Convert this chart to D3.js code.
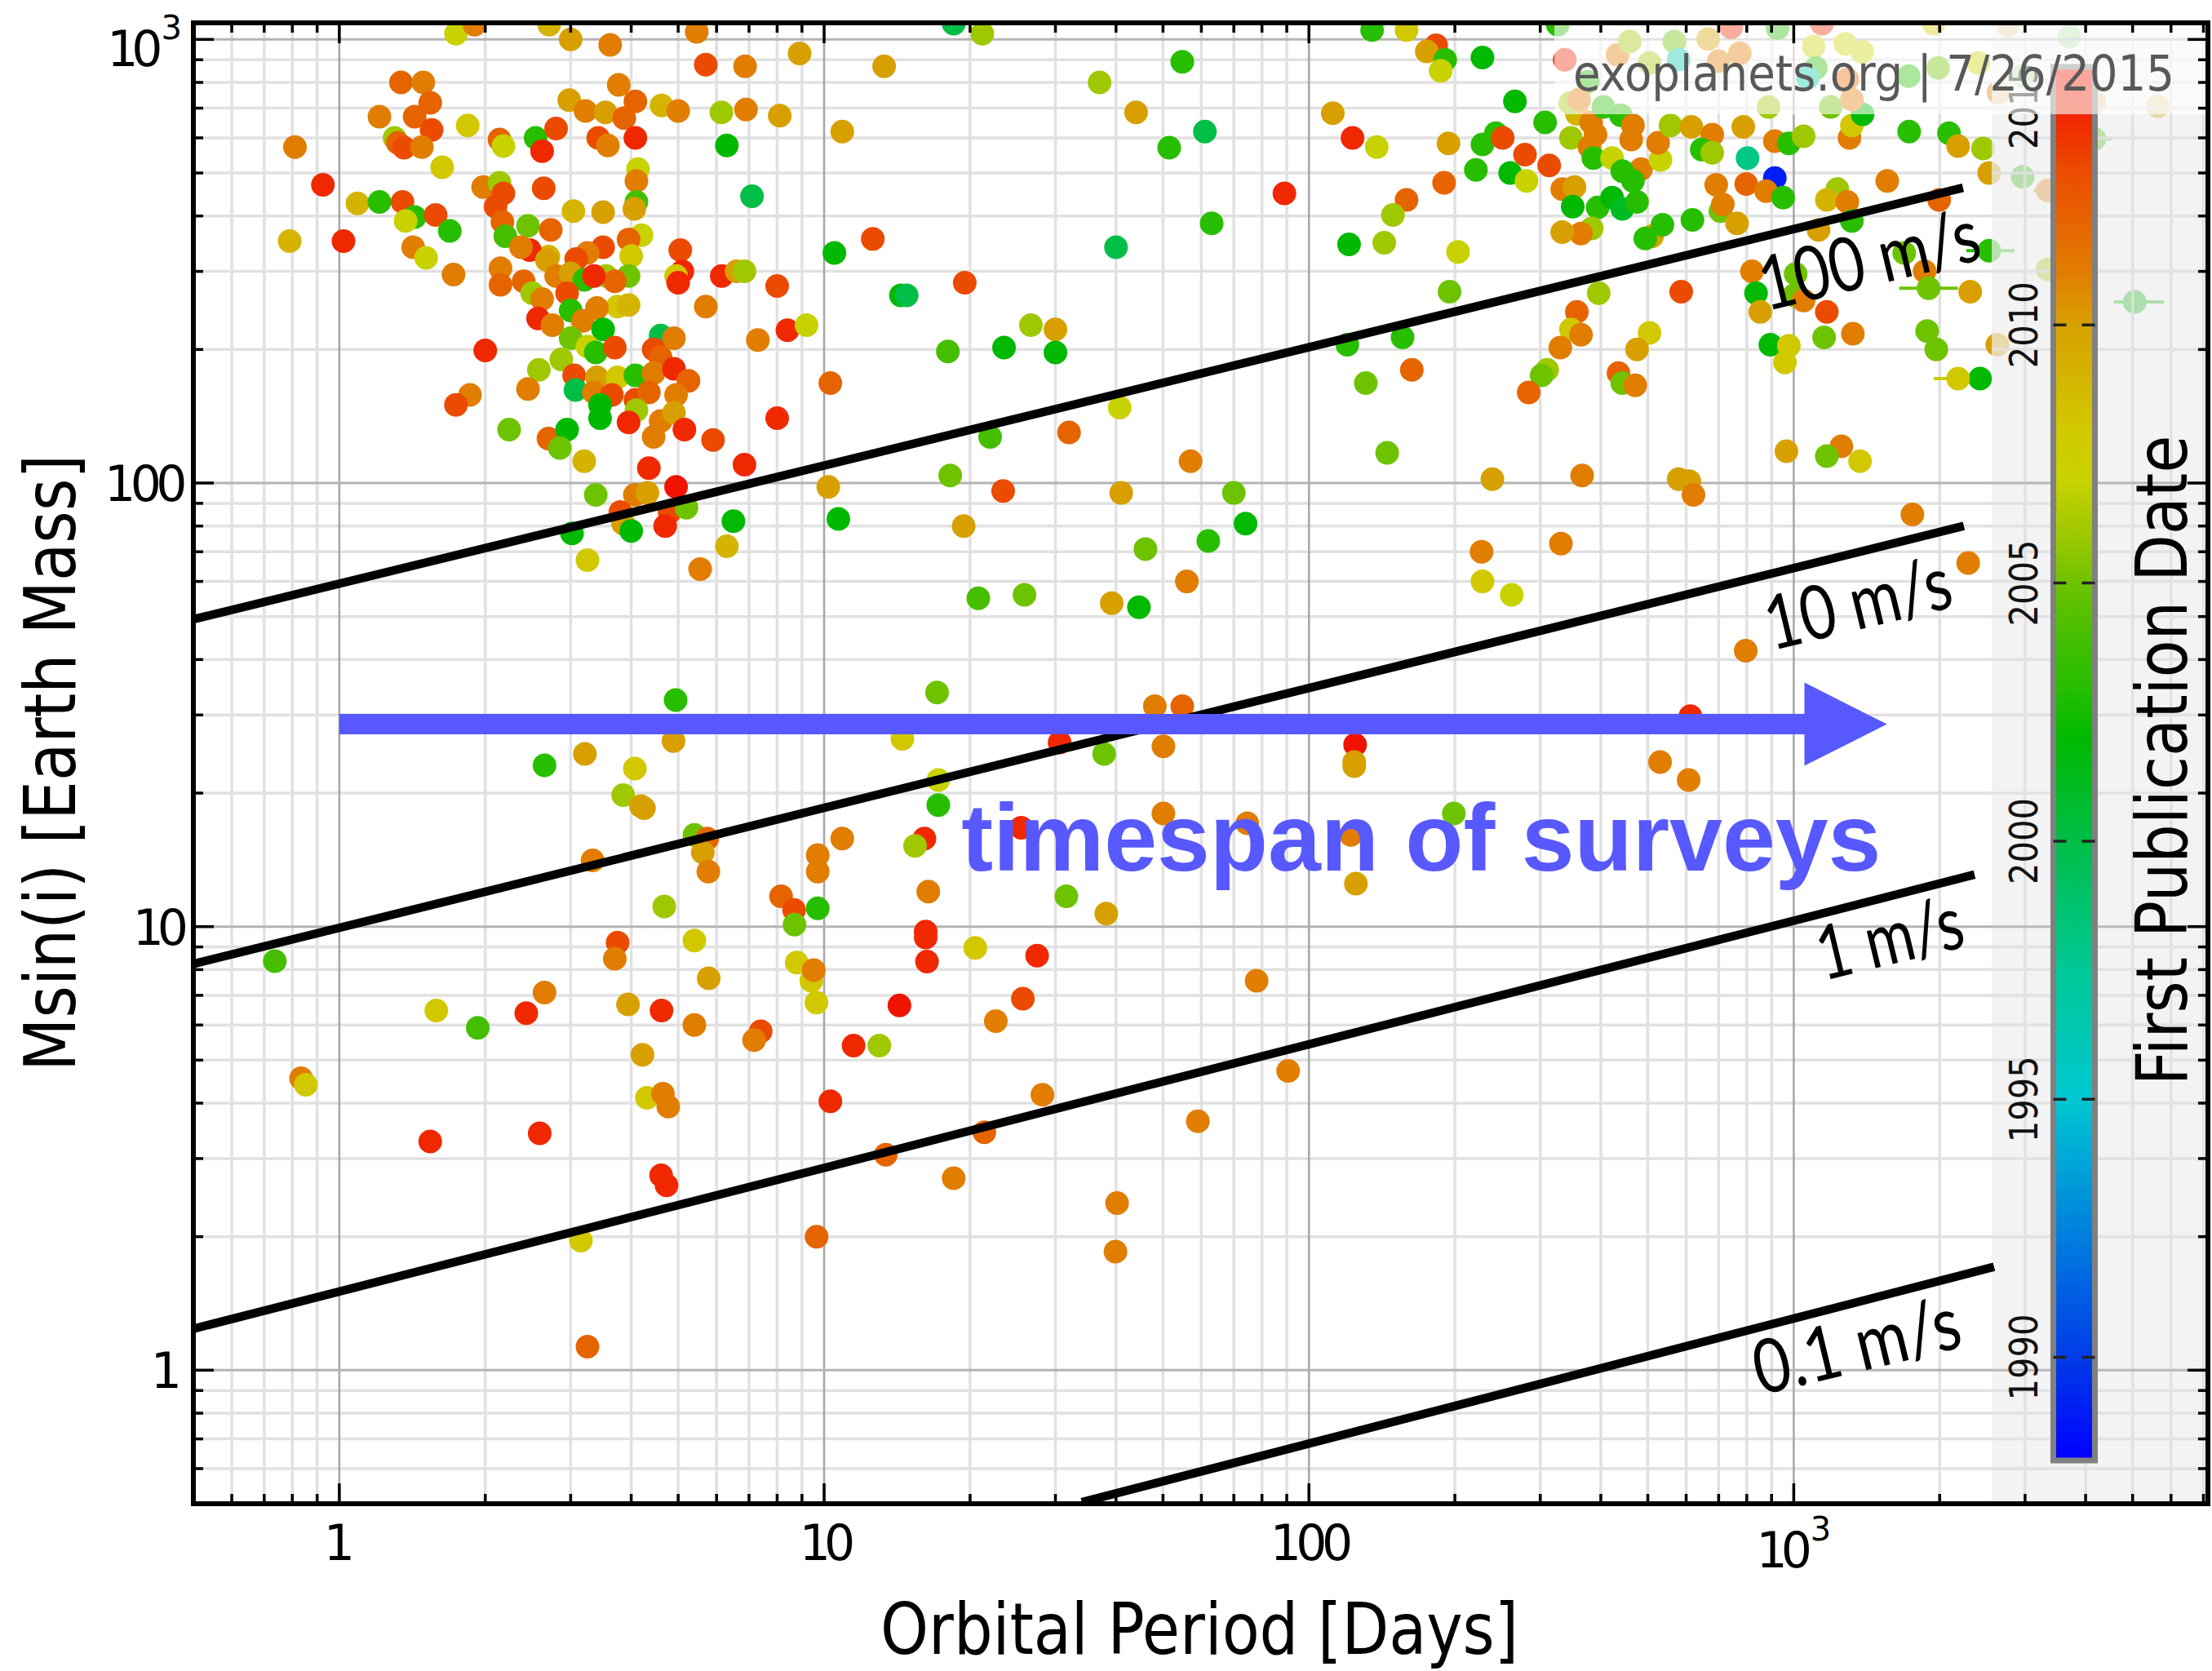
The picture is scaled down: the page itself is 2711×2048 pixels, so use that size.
<!DOCTYPE html>
<html>
<head>
<meta charset="utf-8">
<script src="https://cdn.jsdelivr.net/npm/d3@7"></script>
<style>
  html, body { margin: 0; padding: 0; background: #fff; }
  svg { display: block; }
</style>
</head>
<body>
<svg id="chart" width="2711" height="2048"></svg>
<script>
// ---------------------------------------------------------------------------
// Radial-velocity planets: [orbital period (days), Msin(i) (Earth masses), year of first publication]
// ---------------------------------------------------------------------------
const shortPeriodGiants = [
  [1.74,1030,2007],[1.9,1080,2011],[2.71,1080,2009],[3.0,1000,2010],[3.62,972,2011],[5.46,1040,2011],
  [5.7,877,2013],[6.87,870,2011],[8.1,673,2010],
  [1.34,800,2012],[1.49,800,2011],[1.54,720,2012],[1.21,670,2011],[1.43,670,2012],[1.55,625,2013],
  [1.3,600,2006],[1.32,585,2012],[1.36,570,2013],[1.48,572,2011],[0.81,572,2011],[1.84,640,2008],
  [1.63,515,2008],[0.925,470,2014],[1.09,427,2009],[1.21,430,2003],[1.35,430,2013],[1.43,398,2003],
  [1.37,390,2007],[1.58,402,2013],[1.69,370,2003],[0.79,351,2009],[1.02,351,2014],[1.42,340,2011],
  [1.51,322,2007],[1.72,295,2011],
  [2.14,595,2012],[2.18,575,2007],[2.54,600,2003],[2.62,560,2014],[2.8,630,2013],[2.98,730,2010],
  [3.22,690,2011],[3.54,685,2010],[3.77,790,2011],[3.87,665,2012],[4.08,725,2012],[3.42,600,2013],
  [3.58,577,2011],[4.08,600,2014],[4.13,510,2007],[4.1,480,2011],[4.62,710,2009],[5.0,690,2011],
  [6.14,685,2006],[6.9,695,2011],[6.3,577,2002],[7.1,443,2000],
  [1.98,465,2011],[2.14,475,2006],[2.18,450,2013],[2.1,420,2013],[2.64,462,2013],[3.04,410,2009],
  [3.5,408,2010],[4.1,430,2004],[4.06,415,2010],[2.17,388,2012],[2.45,380,2005],[2.2,360,2004],
  [2.73,372,2012],[4.2,362,2007],[3.95,354,2012],[3.5,340,2013],[3.25,330,2011],[3.08,320,2013],
  [4.0,325,2008],[2.7,324,2009],[2.47,335,2014],[2.37,340,2011],[5.05,335,2013],[5.1,300,2014],
  [4.95,293,2008],[5.0,283,2014],[6.15,293,2014],[6.6,300,2010],[6.85,300,2006],[8.0,278,2013],
  [8.4,221,2014],[7.3,210,2011],[5.7,250,2011],
  [2.15,305,2011],[2.15,280,2012],[2.4,285,2012],[2.5,268,2006],[2.68,318,2010],[2.8,293,2011],
  [3.0,297,2010],[3.2,287,2003],[2.95,268,2013],[2.62,260,2011],[3.55,293,2006],[3.95,293,2005],
  [3.7,285,2012],[3.35,293,2014],[3.75,250,2008],[3.95,252,2009],[3.4,248,2011],[3.0,245,2003],
  [2.57,235,2014],[2.75,227,2011],[3.18,232,2011],[3.5,222,2002],[4.6,215,2000],[4.9,212,2011],
  [3.0,212,2005],[3.25,203,2007],[3.38,197,2003],[3.7,202,2013],[4.45,200,2013],[4.6,192,2012],
  [2.87,190,2006],[2.58,180,2006],[3.05,175,2013],[3.4,173,2010],[3.75,173,2008],[4.08,175,2003],
  [4.45,177,2011],[4.9,181,2014],[5.25,170,2012],[2.45,163,2011],[3.07,162,2000],[3.35,160,2011],
  [3.65,158,2013],[4.08,154,2013],[4.35,160,2012],[4.95,158,2011],[3.45,150,2002],[3.45,140,2002],
  [4.1,146,2006],[3.95,137,2014],[4.6,138,2011],[4.9,144,2010],[5.15,132,2014],[8.0,140,2014],
  [4.45,127,2011],[5.9,125,2013],[6.85,110,2014],[4.35,108,2014],[4.95,98,2015],[2.0,199,2014],
  [1.86,158,2011],[1.74,150,2013],[2.24,132,2005],[2.7,126,2012],[2.95,132,2002],[2.85,120,2005],
  [3.2,112,2009],[3.38,94,2005],[4.07,94,2011],[4.32,95,2010],[3.8,86,2013],[3.85,81,2010],
  [4.8,86,2013],[5.2,88,2005],[4.7,80,2014],[6.5,82,2002],[3.02,77,2002],[3.25,67,2008],
  [4.0,78,2002],[6.3,72,2009],[5.55,64,2011]
];

const temperateGiants = [
  [21.2,1030,2006],[18.5,1085,2000],[8.9,930,2010],[13.3,870,2010],[10.9,620,2010],[54.8,890,2003],
  [37,800,2006],[44,685,2010],[61,620,2000],[51.5,570,2003],[112,682,2010],[89,450,2014],
  [63,385,2003],[40,340,2000],[12.6,355,2013],[10.5,330,2002],[19.5,283,2013],[14.4,265,2002],
  [14.8,265,2000],[9.2,227,2007],[26.7,227,2006],[30,222,2010],[23.5,202,2002],[30,197,2002],
  [18,198,2004],[10.3,168,2012],[40.7,148,2007],[32,130,2012],[22,127,2004],[57,112,2011],
  [18.2,104,2005],[10.2,98,2010],[23.4,96,2013],[41,95,2010],[70,95,2005],[10.7,83,2002],
  [19.4,80,2010],[74,81,2002],[62,74,2003],[46,71,2005],[56,60,2011],[20.8,55,2004],
  [25.9,56,2005],[39.2,53.6,2010],[44.6,52.5,2002]
];

const longPeriodGiants = [
  [135,1050,2003],[159,1050,2008],[183,970,2013],[175,940,2010],[191,900,2003],[187,850,2007],
  [228,910,2002],[266,725,2002],[307,650,2003],[326,1080,2003],
  [123,600,2014],[138,572,2007],[194,583,2010],[228,580,2003],[243,615,2003],[251,600,2013],
  [279,550,2013],[313,520,2013],[221,508,2003],[260,500,2002],[281,480,2007],[190,475,2012],
  [159,435,2012],[149,402,2006],[121,345,2002],[143,348,2006],[203,332,2007],[195,270,2005],
  [156,213,2003],[120,205,2003],[163,180,2012],[131,168,2005],[145,117,2005],[239,102,2010],
  [366,104,2011],[579,102,2010],[609,101,2010],[621,94,2011],[966,118,2010],[1254,121,2011],
  [1170,115,2005],[1370,112,2008],[1757,85,2011],[2290,66,2011],[331,73,2011],[227,70,2011],
  [228,60,2008],[262,56,2007],
  [347,600,2006],[357,680,2009],[382,650,2011],[390,610,2011],[379,572,2011],[386,540,2003],
  [422,540,2007],[440,675,2003],[466,640,2011],[462,595,2011],[484,510,2011],[466,480,2003],
  [443,505,2003],[333,460,2011],[353,465,2010],[350,420,2002],[394,418,2003],[422,440,2002],
  [443,415,2001],[475,430,2003],[383,375,2006],[364,365,2011],[333,368,2010],[510,360,2010],
  [494,356,2003],[536,382,2003],[531,535,2007],[525,585,2011],[557,640,2006],[615,635,2010],
  [679,610,2011],[646,565,2003],[679,555,2006],[618,392,2003],[706,410,2005],[714,425,2011],
  [764,385,2010],[692,470,2011],[787,635,2010],[803,540,1998],[798,472,2012],[914,487,1989],
  [877,455,2011],[951,440,2003],[914,590,2011],[977,583,2003],[1048,605,2006],[1303,600,2011],
  [1318,640,2008],[1730,620,2003],[2090,615,2003],[2183,575,2010],[2457,568,2006],[2530,500,2010],
  [1559,480,2011],[1230,460,2006],[1170,435,2009],[1290,430,2011],[1318,390,2003],[1125,372,2010],
  [1995,435,2012],
  [820,300,2011],[1009,296,2005],[836,268,2002],[1000,265,2005],[1048,258,2011],[853,243,2010],
  [1170,243,2013],[895,205,2002],[977,204,2008],[959,187,2008],[1155,213,2005],[1324,217,2011],
  [1884,220,2005],[1968,200,2005],[2423,172,2002],[2312,270,2010],[1862,300,2011],[1690,330,2005],
  [586,270,2013],[396,268,2006],[357,243,2012],[347,222,2008],[364,216,2011],[330,202,2011],
  [504,218,2008],[475,200,2010],[310,180,2006],[302,175,2005],[284,160,2012],[435,177,2012],
  [443,168,2005],[471,166,2011],
  [337,900,2014],[376,803,2003],[433,923,2011],[459,990,2006],[567,990,2005],[666,1003,2010],
  [774,931,2011],[743,1065,2014],[926,1060,2003],[1099,964,2007],[1111,863,2003],[1143,1085,2014],
  [1277,977,2007],[1290,813,2012],[1384,938,2007],[1726,827,2003],[1944,1085,2008],[1986,863,2005],
  [2405,885,2007],[2645,759,2011],[2766,1075,2011],[2966,827,2003],[3700,1015,2003],[2966,490,2003],
  [3340,303,2006],[2630,205,2010],[5640,707,2010],[4170,722,2011],
  [579,901,1997],[1069,820,1997],[504,885,2006],[700,893,2011],[887,705,2006],[1192,705,2005],
  [1387,678,2002],[1318,732,2011],[346,719,2006],[361,732,2011],[405,705,2003]
];

const lowMassPlanets = [
  [4.94,32.4,2003],[17.1,33.7,2005],[3.21,24.5,2010],[4.89,26.2,2010],[2.65,23.1,2003],[4.07,22.7,2008],
  [3.85,19.8,2006],[4.19,18.7,2010],[4.25,18.5,2010],[14.5,26.5,2008],[17.2,21.4,2007],[17.2,18.8,2003],
  [16.1,15.8,2014],[15.4,15.2,2006],[16.4,12.0,2011],[10.9,15.8,2011],[5.4,16.1,2005],[5.74,15.8,2012],
  [5.62,14.7,2010],[5.77,13.3,2011],[3.33,14.1,2011],[9.7,14.5,2011],[9.7,13.3,2011],[8.15,11.7,2012],
  [8.67,10.9,2013],[8.69,10.1,2005],[9.7,11.0,2003],[4.68,11.1,2006],[3.75,9.2,2013],[3.7,8.47,2011],
  [5.4,9.3,2008],[5.78,7.65,2010],[8.78,8.3,2008],[9.41,7.55,2008],[9.52,7.98,2011],[9.64,6.74,2008],
  [20.5,8.95,2008],[16.2,9.75,2014],[16.2,9.45,2014],[16.3,8.34,2014],[14.3,6.64,2015],[22.6,6.12,2011],
  [11.5,5.39,2014],[13.0,5.39,2006],[10.3,4.04,2014],[1.585,6.47,2008],[1.93,5.91,2004],[2.43,6.38,2014],
  [2.65,7.1,2011],[3.94,6.68,2010],[4.62,6.47,2014],[5.4,6.0,2011],[4.22,5.14,2010],[4.31,4.11,2008],
  [4.65,4.2,2011],[4.77,3.93,2011],[7.4,5.81,2013],[7.17,5.55,2011],[0.834,4.55,2011],[0.853,4.4,2008],
  [0.736,8.36,2004],[1.54,3.28,2014],[2.59,3.42,2014],[4.61,2.75,2014],[4.73,2.61,2014],[3.15,1.96,2008],
  [3.25,1.13,2012],[9.65,2.0,2012],[13.4,3.06,2012],[18.5,2.71,2011],[21.4,3.44,2012],
  [796,41.9,2011],[48.1,31.4,2011],[54.8,31.4,2012],[30.6,26,2014],[37.8,24.5,2005],[50.1,25.5,2011],
  [124.5,25.7,2015],[124,23.5,2010],[124,23.0,2010],[612,29.8,2014],[530,23.5,2011],[607,21.4,2011],
  [50.1,18.0,2011],[74.6,17.1,2011],[25.5,16.7,2014],[199,18,2005],[122,16.1,2011],[125,12.5,2010],
  [31.6,11.7,2005],[38.2,10.7,2010],[27.5,8.6,2014],[25.7,6.88,2013],[78,7.55,2011],[28.2,4.18,2011],
  [90.6,4.73,2011],[59,3.64,2011],[40.2,2.38,2011],[39.9,1.85,2011]
];

// Planets drawn with a horizontal period uncertainty: [period, mass, year, period low, period high]
const periodErrorPlanets = [
  [1897,275,2005,1650,2180],[2530,334,2003,2270,2850],[2183,172,2008,1945,2420],
  [4170,597,2004,3820,4530],[5050,256,2002,4570,5800],[3340,457,2011,3130,3560]
];

// Axis tick labels (a "^" marks a power of ten drawn with a raised exponent)
const periodTickValues = [1, 10, 100, 1000];
const periodTickLabels = ["1", "10", "100", "10^3"];
const massTickValues = [1, 10, 100, 1000];
const massTickLabels = ["1", "10", "100", "10^3"];

// Colour scale for first publication date
const yearStops  = [1988, 1990, 1995, 1997.5, 2000, 2002, 2003, 2004, 2005, 2006, 2007, 2008, 2009, 2010, 2011, 2012, 2013, 2014, 2015];
const stopColors = ["#0000ff","#003ce8","#00c8d2","#00c896","#00be46","#00b900","#28be00","#46be00","#6ec300",
                    "#a0c800","#c8d200","#d2c800","#d4b400","#d7a000","#e17d00","#e66400","#eb4b00","#f02800","#f01400"];
const colorbarYears = [1990, 1995, 2000, 2005, 2010, 2015];

// Constant radial-velocity semi-amplitude curves
const velocityLabels = ["100 m/s", "10 m/s", "1 m/s", "0.1 m/s"];
const velocityPeriods = [[0.5, 2234], [0.5, 2243], [0.5, 2360], [34, 2589]];
const velocityMasses  = [[49.3, 463], [8.24, 80], [1.24, 13.1], [0.504, 1.71]];
const velocityLabelPeriods = [877, 901, 1151, 853];
const velocityLabelMasses  = [244, 41.9, 7.55, 0.877];

// Survey timespan arrow (period range at a fixed mass)
const arrowPeriods = [1, 1052, 1557];   // start, head base, tip
const arrowMass = 28.6;
const arrowCaption = "timespan of surveys";
const arrowCaptionAt = [19.2, 13.4];

// ---------------------------------------------------------------------------
const svg = d3.select("#chart");
const X0 = 237, X1 = 2706, Y0 = 28, Y1 = 1843;
const x = d3.scaleLog().domain([0.5, 7150]).range([X0, X1]);
const y = d3.scaleLog().domain([0.5, 1090]).range([Y1, Y0]);
const colorOf = d3.scaleLinear().domain(yearStops).range(stopColors)
  .interpolate(d3.interpolateRgb).clamp(true);

const defs = svg.append("defs");
defs.append("clipPath").attr("id", "plotClip")
  .append("rect").attr("x", X0).attr("y", Y0).attr("width", X1 - X0).attr("height", Y1 - Y0);
const PANEL_X = 2441;
defs.append("clipPath").attr("id", "panelClip")
  .append("rect").attr("x", PANEL_X).attr("y", Y0).attr("width", X1 - PANEL_X).attr("height", Y1 - Y0);

function logSteps(lo, hi) {
  const out = [];
  for (let e = -1; e <= 4; e++) {
    for (let k = 1; k <= 9; k++) {
      const v = +(k * Math.pow(10, e)).toPrecision(6);
      if (v >= lo && v <= hi) out.push({ v, major: k === 1 });
    }
  }
  return out;
}
const xSteps = logSteps(0.5, 7150);
const ySteps = logSteps(0.5, 1090);

function drawGrid(g) {
  g.selectAll("line.gx").data(xSteps.filter(d => !d.major)).join("line").attr("class", "gx")
    .attr("x1", d => x(d.v)).attr("x2", d => x(d.v)).attr("y1", Y0).attr("y2", Y1)
    .attr("stroke", "#e1e1e1").attr("stroke-width", 3.5);
  g.selectAll("line.gy").data(ySteps.filter(d => !d.major)).join("line").attr("class", "gy")
    .attr("y1", d => y(d.v)).attr("y2", d => y(d.v)).attr("x1", X0).attr("x2", X1)
    .attr("stroke", "#e1e1e1").attr("stroke-width", 3.5);
  g.selectAll("line.gxm").data(xSteps.filter(d => d.major)).join("line").attr("class", "gxm")
    .attr("x1", d => x(d.v)).attr("x2", d => x(d.v)).attr("y1", Y0).attr("y2", Y1)
    .attr("stroke", "#a6a6a6").attr("stroke-width", 2.5);
  g.selectAll("line.gym").data(ySteps.filter(d => d.major)).join("line").attr("class", "gym")
    .attr("y1", d => y(d.v)).attr("y2", d => y(d.v)).attr("x1", X0).attr("x2", X1)
    .attr("stroke", "#b4b4b4").attr("stroke-width", 3);
}

// Grid
drawGrid(svg.append("g").attr("clip-path", "url(#plotClip)"));

// Planets
const plot = svg.append("g").attr("clip-path", "url(#plotClip)");
const planets = [].concat(shortPeriodGiants, temperateGiants, longPeriodGiants, lowMassPlanets);

plot.append("g").selectAll("line").data(periodErrorPlanets).join("line")
  .attr("x1", d => x(d[3])).attr("x2", d => x(d[4]))
  .attr("y1", d => y(d[1])).attr("y2", d => y(d[1]))
  .attr("stroke", d => colorOf(d[2])).attr("stroke-width", 4);

plot.append("g").selectAll("circle").data(planets.concat(periodErrorPlanets)).join("circle")
  .attr("cx", d => x(d[0])).attr("cy", d => y(d[1])).attr("r", 14.5)
  .attr("fill", d => colorOf(d[2]));

// Legend panel (semi-transparent) with its own grid on top
svg.append("rect").attr("x", PANEL_X).attr("y", Y0).attr("width", X1 - PANEL_X).attr("height", Y1 - Y0)
  .attr("fill", "#eeeeee").attr("opacity", 0.72);
drawGrid(svg.append("g").attr("clip-path", "url(#panelClip)").attr("opacity", 0.85));

// Velocity curves
const lineGen = d3.line();
const vel = svg.append("g").attr("clip-path", "url(#plotClip)");
velocityLabels.forEach((lab, i) => {
  const pts = velocityPeriods[i].map((p, j) => [x(p), y(velocityMasses[i][j])]);
  vel.append("path").attr("d", lineGen(pts)).attr("fill", "none")
    .attr("stroke", "#000").attr("stroke-width", 10.5);
});
const labelLengths = [275, 232, 182, 258];
velocityLabels.forEach((lab, i) => {
  const px = x(velocityLabelPeriods[i]), py = y(velocityLabelMasses[i]);
  svg.append("text").text(lab)
    .attr("transform", `translate(${px},${py}) rotate(-13.5)`)
    .attr("font-family", "Lato, 'Open Sans', sans-serif").attr("font-size", 92)
    .attr("textLength", labelLengths[i]).attr("lengthAdjust", "spacingAndGlyphs")
    .attr("fill", "#000");
});

// Survey timespan arrow
const blue = "#5858ff";
const ay = y(arrowMass);
svg.append("line").attr("x1", x(arrowPeriods[0])).attr("x2", x(arrowPeriods[1]) + 2)
  .attr("y1", ay).attr("y2", ay).attr("stroke", blue).attr("stroke-width", 25);
svg.append("path")
  .attr("d", `M${x(arrowPeriods[1])},${ay - 51} L${x(arrowPeriods[2])},${ay} L${x(arrowPeriods[1])},${ay + 51} Z`)
  .attr("fill", blue);
svg.append("text").text(arrowCaption)
  .attr("x", x(arrowCaptionAt[0])).attr("y", y(arrowCaptionAt[1]))
  .attr("font-family", "'Liberation Sans', Arial, sans-serif").attr("font-weight", "bold")
  .attr("font-size", 116).attr("textLength", 1127).attr("lengthAdjust", "spacingAndGlyphs")
  .attr("fill", blue);

// Colour bar
const CB_X = 2516.5, CB_W = 51, CB_TOP = 82, CB_BOT = 1790;
const cbY = d3.scaleLinear().domain([1988, 2015]).range([CB_BOT, CB_TOP]);
const grad = defs.append("linearGradient").attr("id", "yearGrad")
  .attr("x1", 0).attr("y1", 1).attr("x2", 0).attr("y2", 0);
yearStops.forEach((yr, i) => {
  grad.append("stop").attr("offset", (yr - 1988) / 27).attr("stop-color", stopColors[i]);
});
svg.append("rect").attr("x", CB_X).attr("y", CB_TOP).attr("width", CB_W).attr("height", CB_BOT - CB_TOP)
  .attr("fill", "url(#yearGrad)").attr("stroke", "#808080").attr("stroke-width", 7);
colorbarYears.filter(yr => cbY(yr) > CB_TOP + 10).forEach(yr => {
  svg.append("line").attr("x1", CB_X).attr("x2", CB_X + CB_W)
    .attr("y1", cbY(yr)).attr("y2", cbY(yr))
    .attr("stroke", "#222").attr("stroke-width", 3.5).attr("stroke-dasharray", "16,19");
});
colorbarYears.forEach(yr => {
  const cy = Math.max(cbY(yr), CB_TOP + 48);
  svg.append("text").text(String(yr))
    .attr("transform", `translate(2497,${cy}) rotate(-90)`)
    .attr("text-anchor", "middle")
    .attr("font-family", "'DejaVu Sans', Verdana, sans-serif").attr("font-size", 48)
    .attr("textLength", 106).attr("lengthAdjust", "spacingAndGlyphs").attr("fill", "#111");
});
svg.append("text").text("First Publication Date")
  .attr("transform", "translate(2680,932) rotate(-90)").attr("text-anchor", "middle")
  .attr("font-family", "'DejaVu Sans Condensed', 'DejaVu Sans', sans-serif").attr("font-size", 88)
  .attr("textLength", 797).attr("lengthAdjust", "spacingAndGlyphs").attr("fill", "#000");

// Watermark
svg.append("rect").attr("x", 1905).attr("y", Y0).attr("width", X1 - 1905).attr("height", 140 - Y0)
  .attr("fill", "#ffffff").attr("opacity", 0.62);
svg.append("text").text("exoplanets.org | 7/26/2015")
  .attr("x", 2665).attr("y", 111).attr("text-anchor", "end")
  .attr("font-family", "'DejaVu Sans Condensed', 'DejaVu Sans', sans-serif").attr("font-size", 60)
  .attr("textLength", 737).attr("lengthAdjust", "spacingAndGlyphs")
  .attr("fill", "#595959");

// Frame and inside ticks
const ticks = svg.append("g").attr("stroke", "#000").attr("stroke-width", 3.5);
xSteps.filter(d => d.v > 0.5).forEach(d => {
  const L = d.major ? 25 : 12, px = x(d.v);
  ticks.append("line").attr("x1", px).attr("x2", px).attr("y1", Y1).attr("y2", Y1 - L);
  ticks.append("line").attr("x1", px).attr("x2", px).attr("y1", Y0).attr("y2", Y0 + L);
});
ySteps.filter(d => d.v > 0.5).forEach(d => {
  const L = d.major ? 25 : 12, py = y(d.v);
  ticks.append("line").attr("y1", py).attr("y2", py).attr("x1", X0).attr("x2", X0 + L);
  ticks.append("line").attr("y1", py).attr("y2", py).attr("x1", X1).attr("x2", X1 - L);
});
svg.append("rect").attr("x", X0).attr("y", Y0).attr("width", X1 - X0).attr("height", Y1 - Y0)
  .attr("fill", "none").attr("stroke", "#000").attr("stroke-width", 6);

// Tick labels. Digits are drawn slightly condensed via negative letter spacing;
// a power-of-ten label is a base text plus a separate, raised exponent text.
const tickFont = "'DejaVu Sans', Verdana, sans-serif";
const tickGroup = svg.append("g").attr("font-family", tickFont).attr("fill", "#000");
const tightening = { 1: 0, 2: -8, 3: -6.5 };

function drawTickLabel(label, px, baseline, anchor) {
  const parts = label.split("^");
  if (parts.length === 1) {
    tickGroup.append("text").text(label)
      .attr("x", px).attr("y", baseline).attr("text-anchor", anchor)
      .attr("font-size", 60).attr("letter-spacing", tightening[label.length] || 0);
    return;
  }
  // measure base and exponent, then lay them out side by side
  const base = tickGroup.append("text").text(parts[0])
    .attr("font-size", 60).attr("letter-spacing", tightening[parts[0].length] || 0)
    .attr("y", baseline);
  const sup = tickGroup.append("text").text(parts[1])
    .attr("font-size", 40).attr("y", baseline - 33);
  const bw = base.node().getComputedTextLength();
  const sw = sup.node().getComputedTextLength();
  const gap = 6;
  const total = bw + gap + sw;
  const left = anchor === "end" ? px - total : anchor === "middle" ? px - total / 2 : px;
  base.attr("x", left);
  sup.attr("x", left + bw + gap);
}

periodTickValues.forEach((v, i) => {
  const lab = periodTickLabels[i];
  drawTickLabel(lab, x(v), lab.includes("^") ? 1921 : 1912, "middle");
});
massTickValues.forEach((v, i) => {
  const lab = massTickLabels[i];
  drawTickLabel(lab, 223, y(v) + (lab.includes("^") ? 33 : 22), "end");
});

// Axis titles
svg.append("text").text("Orbital Period [Days]")
  .attr("x", 1470).attr("y", 2027).attr("text-anchor", "middle")
  .attr("font-family", "'DejaVu Sans Condensed', 'DejaVu Sans', sans-serif").attr("font-size", 88)
  .attr("textLength", 782).attr("lengthAdjust", "spacingAndGlyphs").attr("fill", "#000");
svg.append("text").text("Msin(i) [Earth Mass]")
  .attr("transform", "translate(92,935) rotate(-90)").attr("text-anchor", "middle")
  .attr("font-family", "'DejaVu Sans Condensed', 'DejaVu Sans', sans-serif").attr("font-size", 88)
  .attr("textLength", 756).attr("lengthAdjust", "spacingAndGlyphs").attr("fill", "#000");
</script>
</body>
</html>
